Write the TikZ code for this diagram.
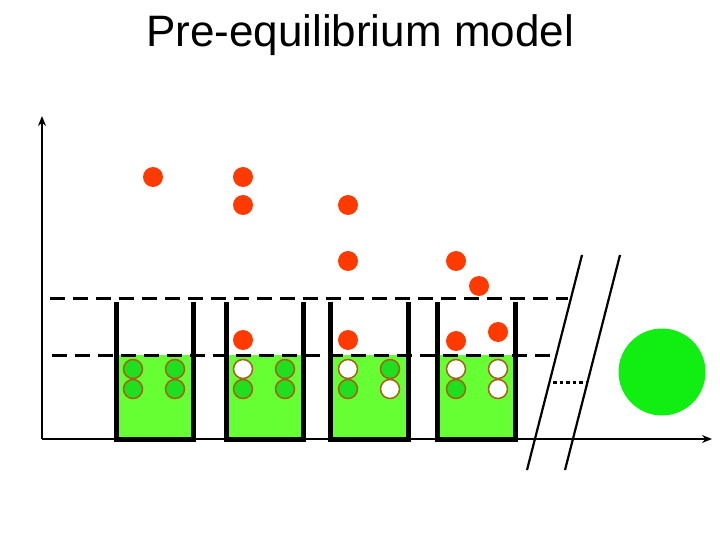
\documentclass[tikz,border=0pt]{standalone}
\usepackage{fontspec}
\setmainfont{Liberation Sans}
\usetikzlibrary{arrows.meta}
\definecolor{liquid}{HTML}{66FF33}
\definecolor{ballgreen}{HTML}{1EE01E}
\definecolor{rim}{HTML}{A8601A}
\definecolor{redball}{HTML}{FF3A00}
\definecolor{bigball}{HTML}{11EE11}
\tikzset{
  wall/.style={line width=5pt},
  level/.style={line width=3pt, dash pattern=on 15pt off 8pt},
  axis/.style={line width=2.5pt, -{Stealth[length=10pt,width=8pt]}},
  gball/.style={circle, draw=rim, line width=1.5pt, fill=ballgreen, minimum size=19pt, inner sep=0pt},
  wball/.style={circle, draw=rim, line width=1.5pt, fill=white, minimum size=19pt, inner sep=0pt},
  rball/.style={circle, fill=redball, minimum size=20pt, inner sep=0pt},
  slash/.style={line width=2.2pt},
}
\begin{document}
\begin{tikzpicture}[x=1pt,y=-1pt]
\useasboundingbox (0,0) rectangle (720,540);
\node (title) at (360,35) {\fontsize{44pt}{48pt}\selectfont Pre-equilibrium model};
% liquid
\foreach \l/\r in {116/193, 226/303, 330/408, 437/515}{
  \fill[liquid] (\l,355) rectangle (\r,439);
}
% levels
\draw[level] (50,298) -- (568,298);
\draw[level] (52,355) -- (552,355);
% axes
\coordinate (o) at (42,439);
\coordinate (ytop) at (42,116);
\coordinate (xend) at (712,439);
\draw[axis] (o) -- (ytop);
\draw[axis] (o) -- (xend);
% buckets
\foreach \l/\r in {116/193, 226/303, 330/408, 437/515}{
  \draw[wall] (\l,302) -- (\l,439) -- (\r,439) -- (\r,302);
}
% balls in buckets
\node[gball] (a1) at (133,369) {};
\node[gball] (a2) at (175,369) {};
\node[gball] (a3) at (133,389) {};
\node[gball] (a4) at (175,389) {};
\node[wball] (b1) at (243,369) {};
\node[gball] (b2) at (285,369) {};
\node[gball] (b3) at (243,389) {};
\node[gball] (b4) at (285,389) {};
\node[wball] (c1) at (348,369) {};
\node[gball] (c2) at (390,369) {};
\node[gball] (c3) at (348,389) {};
\node[wball] (c4) at (390,389) {};
\node[wball] (d1) at (456,369) {};
\node[wball] (d2) at (498,369) {};
\node[gball] (d3) at (456,389) {};
\node[wball] (d4) at (498,389) {};
% red balls
\node[rball] (r1) at (153,177) {};
\node[rball] (r2) at (243,177) {};
\node[rball] (r3) at (243,205) {};
\node[rball] (r4) at (348,205) {};
\node[rball] (r5) at (348,261) {};
\node[rball] (r6) at (456,261) {};
\node[rball] (r7) at (479,286) {};
\node[rball] (r8) at (243,340) {};
\node[rball] (r9) at (348,340) {};
\node[rball] (r10) at (456,341) {};
\node[rball] (r11) at (498,332) {};
% break marks
\coordinate (s1t) at (582,255);
\coordinate (s1b) at (527,470);
\coordinate (s2t) at (620,255);
\coordinate (s2b) at (565,470);
\draw[slash] (s1t) -- (s1b);
\draw[slash] (s2t) -- (s2b);
\coordinate (dl) at (553,382);
\coordinate (dr) at (586,382);
\draw[line width=3pt, dash pattern=on 3.5pt off 3pt] (dl) -- (dr);
% nucleus
\node[circle, fill=bigball, minimum size=87pt, inner sep=0pt] (nuc) at (662,372) {};
\end{tikzpicture}
\end{document}
